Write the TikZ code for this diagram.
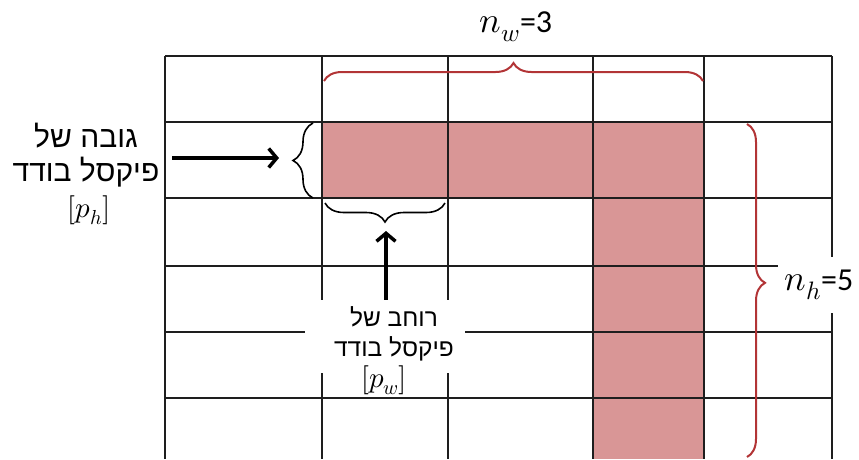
\documentclass[tikz,border=0pt]{standalone}
\usepackage{fontspec}
\usepackage{unicode-math}
\newfontfamily\hebfont[Script=Hebrew]{Liberation Sans}
\newfontfamily\calfont{Carlito}
\TeXXeTstate=1
\usetikzlibrary{decorations.pathreplacing,arrows.meta}
\definecolor{pinkfill}{RGB}{217,150,150}
\definecolor{bracered}{RGB}{178,52,54}
\definecolor{gridcol}{RGB}{30,30,30}
\newcommand{\bigmath}[1]{{\fontsize{36}{40}\selectfont$#1$}}
\tikzset{
  gridline/.style={draw=gridcol, line width=1.5pt},
  redbrace/.style={draw=bracered, line width=2pt, decorate},
  blackbrace/.style={draw=black, line width=1.6pt, decorate},
  bigarrow/.style={draw=black, line width=3.5pt, -{Straight Barb[length=8pt,width=19pt]}},
  hebleft/.style={font=\hebfont\fontsize{30}{34}\selectfont, align=center, inner sep=0pt},
  hebbottom/.style={font=\hebfont\fontsize{24.5}{30}\selectfont, align=center, inner sep=0pt},
  mathlab/.style={font=\fontsize{29}{30}\selectfont, inner sep=0pt},
  countlab/.style={font=\calfont\fontsize{32}{40}\selectfont, inner sep=0pt},
  whitebox/.style={fill=white, draw=none},
}
\begin{document}
\begin{tikzpicture}[x=1pt,y=-1pt]
\useasboundingbox (0,0) rectangle (859,459);
% pink cells
\fill[pinkfill] (322,122) rectangle (704,198);
\fill[pinkfill] (593,198) rectangle (704,459);
% grid
\foreach \yy in {56,122,198,266,332,398}
  \draw[gridline] (165,\yy) -- (832,\yy);
\foreach \xx in {165,322,448,593,704,832}
  \draw[gridline] (\xx,56) -- (\xx,459);
% top label
\node[countlab] (nw) at (516,27) {\bigmath{n_w}=3};
% top red brace
\draw[redbrace, decoration={brace,amplitude=18pt}] (324,81) -- (703,81);
% right red brace
\draw[redbrace, decoration={brace,amplitude=18pt,aspect=0.477}] (747,124) -- (747,457);
\node[countlab, whitebox, minimum width=82pt, minimum height=56pt] (nh) at (819,285) {\bigmath{n_h}=5};
% left black brace
\draw[blackbrace, decoration={brace,amplitude=20pt}] (313,198) -- (313,123);
% bottom black brace
\draw[blackbrace, decoration={brace,amplitude=19pt}] (445,203) -- (325,203);
% left text
\node[hebleft] (hl) at (86,155) {{\beginR גובה של\endR}\\{\beginR פיקסל בודד\endR}};
\node[mathlab] (ph) at (89,210) {$[p_h]$};
\coordinate (a1s) at (172,158);
\coordinate (a1e) at (279,158);
\draw[bigarrow] (a1s) -- (a1e);
% bottom text
\node[whitebox, minimum width=160pt, minimum height=73pt, inner sep=0pt] (bb) at (385,336.5) {};
\node[hebbottom] (hb) at (394,334) {{\beginR רוחב של\endR}\\{\beginR פיקסל בודד\endR}};
\node[mathlab] (pw) at (384,380) {$[p_w]$};
\coordinate (a2e) at (386,231);
\draw[bigarrow] (bb.north -| a2e) -- (a2e);
\end{tikzpicture}
\end{document}
